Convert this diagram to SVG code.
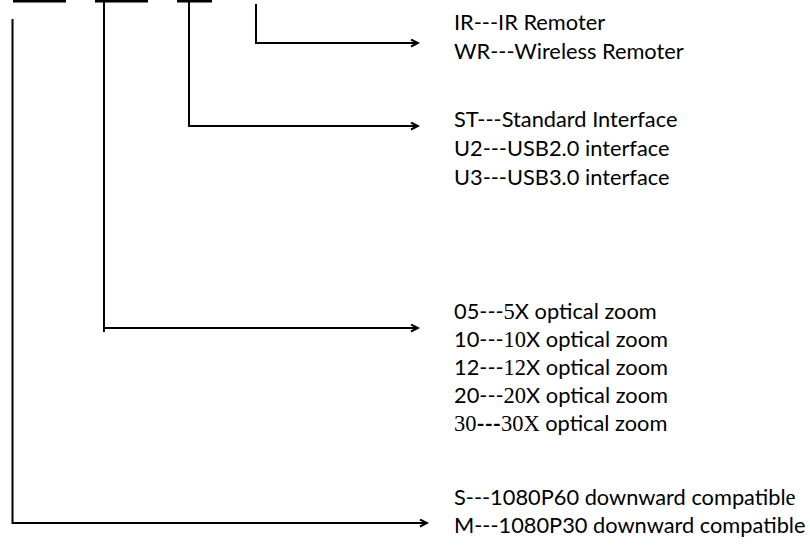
<svg xmlns="http://www.w3.org/2000/svg" width="810" height="547" viewBox="0 0 810 547">
  <style>
    .ln { stroke: #000; stroke-width: 2; fill: none; }
    .bar { stroke: #000; stroke-width: 3; fill: none; }
    .t { font-family: Lato, "Liberation Sans", sans-serif; font-size: 21.8px; fill: #000; }
    .s { font-family: "Liberation Serif", serif; font-size: 22.5px; }
  </style>
  <defs>
    <marker id="arr" markerWidth="10" markerHeight="10" refX="8" refY="4" orient="auto" markerUnits="userSpaceOnUse">
      <path d="M1,0.5 L8,4 L1,7.5" stroke="#000" stroke-width="2" fill="none"/>
    </marker>
  </defs>
  <rect width="810" height="547" fill="#fff"/>

  <g id="code-fields">
    <line class="bar" x1="13" y1="1" x2="66" y2="1"/>
    <line class="bar" x1="95" y1="1" x2="148" y2="1"/>
    <line class="bar" x1="177" y1="1" x2="212" y2="1"/>
  </g>

  <g id="connectors">
    <path class="ln" d="M256,4 V43 H418" marker-end="url(#arr)"/>
    <path class="ln" d="M189,2 V126 H418" marker-end="url(#arr)"/>
    <path class="ln" d="M104,2 V332 M104,328 H418" marker-end="url(#arr)"/>
    <path class="ln" d="M12.5,19 V523 H427" marker-end="url(#arr)"/>
  </g>

  <g id="remote">
    <text class="t" x="454" y="30">IR---IR Remoter</text>
    <text class="t" x="454" y="59">WR---Wireless Remoter</text>
  </g>

  <g id="interface">
    <text class="t" x="454" y="127">ST---Standard Interface</text>
    <text class="t" x="454" y="156">U2---USB2.0 interface</text>
    <text class="t" x="454" y="185">U3---USB3.0 interface</text>
  </g>

  <g id="zoom">
    <text class="t" x="454" y="319">05---<tspan class="s">5</tspan>X optical zoom</text>
    <text class="t" x="454" y="347">10---<tspan class="s">10</tspan>X optical zoom</text>
    <text class="t" x="454" y="375">12---<tspan class="s">12</tspan>X optical zoom</text>
    <text class="t" x="454" y="403">20---<tspan class="s">20</tspan>X optical zoom</text>
    <text class="t" x="454" y="431"><tspan class="s">30</tspan><tspan font-weight="bold">---</tspan><tspan class="s">30X</tspan> optical zoom</text>
  </g>

  <g id="resolution">
    <text class="t" x="454" y="505">S---1080P60 downward compatibl<tspan class="s">e</tspan></text>
    <text class="t" x="454" y="533">M---1080P30 downward compatible</text>
  </g>
</svg>
